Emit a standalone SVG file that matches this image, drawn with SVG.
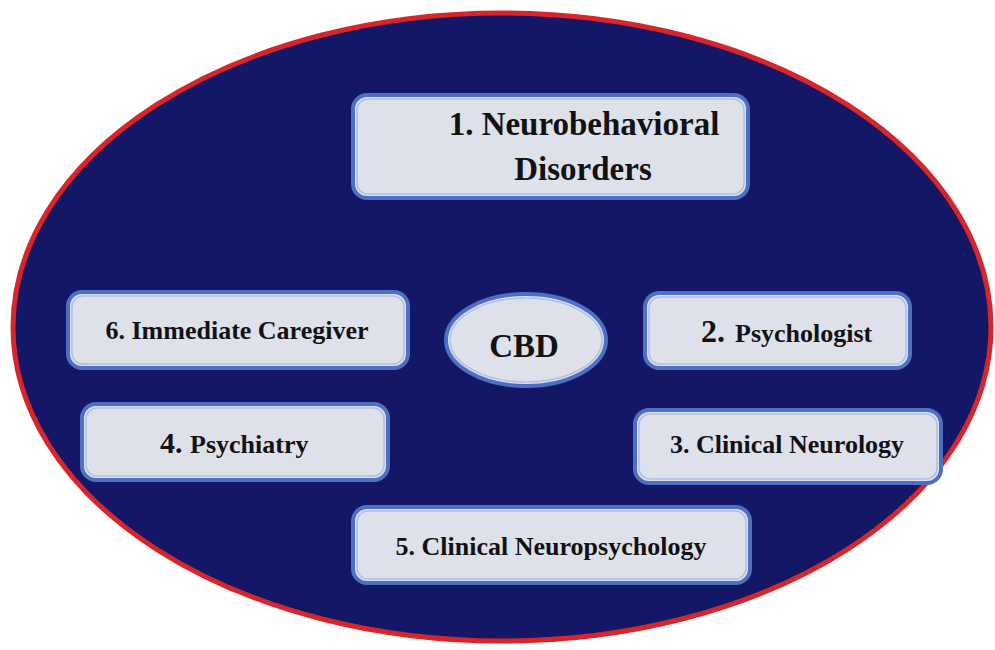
<svg xmlns="http://www.w3.org/2000/svg" width="995" height="650" viewBox="0 0 995 650">
  <style>
    .box { fill: #dfe1ea; stroke: #4e70c4; stroke-width: 4; }
    .inner { fill: none; stroke: #aebfe6; stroke-width: 1.5; }
    .t { font-family: 'Liberation Serif', 'DejaVu Serif', serif; font-weight: 700; fill: #121212; }
  </style>
  <rect width="995" height="650" fill="#ffffff"/>
  <g id="outer">
    <ellipse cx="502" cy="327" rx="489" ry="314" fill="#141766" stroke="#d7262b" stroke-width="5"/>
  </g>
  <g id="connectors"/>
  <g id="node1">
    <rect class="box" x="353" y="95" width="395" height="103" rx="14"/>
    <rect class="inner" x="357" y="99" width="387" height="95" rx="11"/>
    <text class="t" x="584" y="135" font-size="33" text-anchor="middle">1. Neurobehavioral</text>
    <text class="t" x="583" y="180" font-size="33" text-anchor="middle">Disorders</text>
  </g>
  <g id="node6">
    <rect class="box" x="68" y="292" width="340" height="76" rx="14"/>
    <rect class="inner" x="72" y="296" width="332" height="68" rx="11"/>
    <text class="t" x="237" y="339" font-size="26" text-anchor="middle">6. Immediate Caregiver</text>
  </g>
  <g id="cbd">
    <ellipse cx="526" cy="340" rx="80" ry="46" fill="#dfe1ea" stroke="#4e70c4" stroke-width="4"/>
    <ellipse cx="526" cy="340" rx="76" ry="42" fill="none" stroke="#aebfe6" stroke-width="1.5"/>
    <text class="t" x="524" y="357" font-size="33" text-anchor="middle">CBD</text>
  </g>
  <g id="node2">
    <rect class="box" x="645" y="293" width="265" height="75" rx="14"/>
    <rect class="inner" x="649" y="297" width="257" height="67" rx="11"/>
    <text class="t" y="342"><tspan x="701" font-size="32">2.</tspan><tspan x="735" font-size="26">Psychologist</tspan></text>
  </g>
  <g id="node4">
    <rect class="box" x="82" y="404" width="306" height="76" rx="14"/>
    <rect class="inner" x="86" y="408" width="298" height="68" rx="11"/>
    <text class="t" y="453"><tspan x="160" font-size="30">4.</tspan><tspan x="190" font-size="26">Psychiatry</tspan></text>
  </g>
  <g id="node3">
    <rect class="box" x="635" y="410" width="306" height="73" rx="14"/>
    <rect class="inner" x="639" y="414" width="298" height="65" rx="11"/>
    <text class="t" x="787" y="453" font-size="26" text-anchor="middle">3. Clinical Neurology</text>
  </g>
  <g id="node5">
    <rect class="box" x="353" y="507" width="397" height="76" rx="14"/>
    <rect class="inner" x="357" y="511" width="389" height="68" rx="11"/>
    <text class="t" x="551" y="555" font-size="26" text-anchor="middle">5. Clinical Neuropsychology</text>
  </g>
</svg>
